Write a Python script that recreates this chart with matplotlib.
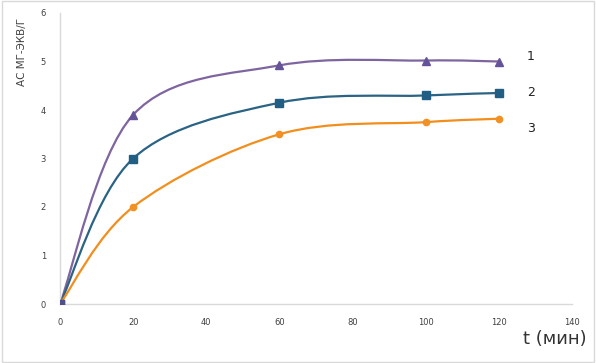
import matplotlib
matplotlib.use("Agg")
import matplotlib.pyplot as plt
from matplotlib.path import Path
from matplotlib.patches import PathPatch, Rectangle
import numpy as np

t = [0, 20, 60, 100, 120]
s1 = [0, 3.9, 4.92, 5.02, 5.0]
s2 = [0, 3.0, 4.15, 4.3, 4.35]
s3 = [0, 2.0, 3.5, 3.75, 3.82]
labels = ["1", "2", "3"]
xticks = [0, 20, 40, 60, 80, 100, 120, 140]
yticks = [0, 1, 2, 3, 4, 5, 6]

line_colors = ["#7E65A0", "#2A6384", "#F28E1C"]
marker_colors = ["#65539A", "#215E84", "#F29024"]
markers = ["^", "s", "o"]

fig = plt.figure(figsize=(5.96, 3.63), dpi=100)
ax = fig.add_axes([60/596, (363-304)/363, (572-60)/596, (304-13)/363])


def smooth_path(x, y):
    pts = np.column_stack([x, y]).astype(float)
    n = len(pts)
    verts = [pts[0]]
    codes = [Path.MOVETO]
    for i in range(n - 1):
        p0 = pts[i - 1] if i > 0 else pts[i]
        p1 = pts[i]
        p2 = pts[i + 1]
        p3 = pts[i + 2] if i + 2 < n else pts[i + 1]
        c1 = p1 + (p2 - p0) / 6.0
        c2 = p2 - (p3 - p1) / 6.0
        verts += [c1, c2, p2]
        codes += [Path.CURVE4] * 3
    return Path(verts, codes)


for ys, lc, mc, mk in zip([s1, s2, s3], line_colors, marker_colors, markers):
    ax.add_patch(PathPatch(smooth_path(t, ys), facecolor="none", edgecolor=lc, lw=1.6, zorder=2))
    ax.plot(t, ys, linestyle="none", marker=mk, color=mc, markersize=5.5 if mk != "o" else 4.5, zorder=3)

ax.plot([0], [0], linestyle="none", marker="s", color="#4F4F8A", markersize=6, zorder=4)

ax.set_xlim(0, 140)
ax.set_ylim(0, 6)
ax.set_xticks(xticks)
ax.set_yticks(yticks)
ax.tick_params(axis="x", length=0, labelsize=6, colors="#404040", pad=10)
ax.tick_params(axis="y", length=0, labelsize=6, colors="#404040", pad=10)
for s in ["top", "right"]:
    ax.spines[s].set_visible(False)
for s in ["left", "bottom"]:
    ax.spines[s].set_color("#D9D9D9")
    ax.spines[s].set_linewidth(1)

ax.set_ylabel("АС МГ-ЭКВ/Г", fontsize=7.5, color="#404040")
ax.yaxis.set_label_coords(-33/512, 0.865)

fig.text(587/596, 1 - 339/363, "t (мин)", fontsize=13, color="#333333", ha="right", va="center")

for lab, yy in zip(labels, [57, 93, 128]):
    fig.text(527/596, 1 - yy/363, lab, fontsize=9, color="#222222", ha="left", va="center")

fig.patches.append(Rectangle((0.003, 0.003), 0.994, 0.994, transform=fig.transFigure,
                             fill=False, edgecolor="#D9D9D9", lw=1))

fig.savefig("out.png", dpi=100)
